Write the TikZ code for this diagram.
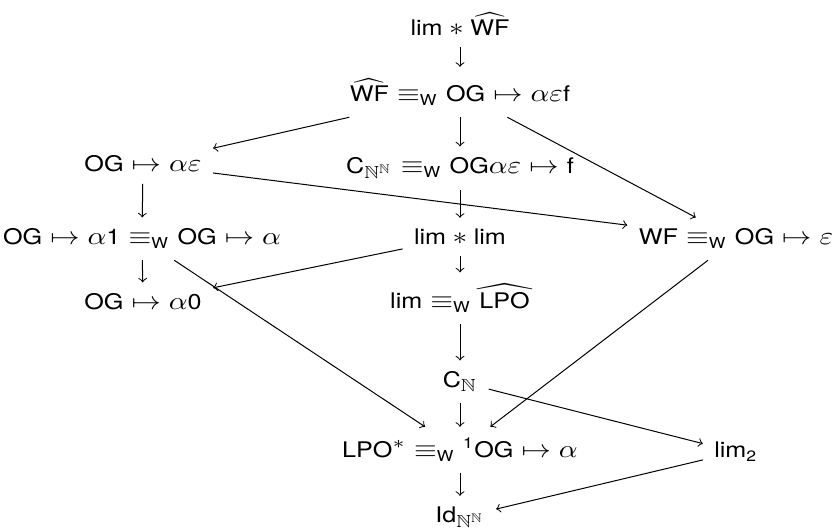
\documentclass[tikz,border=0pt]{standalone}
\usepackage{amsmath,amssymb}
\usepackage{graphicx}
\usepackage{fontspec}
\setmainfont{TeX Gyre Heros}[Scale=0.86]
\setsansfont{TeX Gyre Heros}[Scale=0.86]
\newcommand{\sx}[1]{\scalebox{1.17}[1]{#1}}
\newcommand{\tx}[1]{\text{#1}}
\newcommand{\eqW}{\equiv_{\text{W}}}
\begin{document}
\begin{tikzpicture}[x=0.4pt,y=-0.4pt,>=to,
  lbl/.style={anchor=base, inner xsep=4.4pt, inner ysep=4.4pt},
  arr/.style={->, line width=0.4pt}]
\useasboundingbox (0,0) rectangle (835,532);
% center column
\node[lbl] (n0) at (460,36) {\sx{$\tx{lim} * \widehat{\tx{WF}}$}};
\node[lbl] (n1) at (460,102) {\sx{$\widehat{\tx{WF}} \eqW \tx{OG} \mapsto \alpha\varepsilon\tx{f}$}};
\node[lbl] (n2c) at (460,174) {\sx{$\tx{C}_{\mathbb{N}^{\mathbb{N}}} \eqW \tx{OG}\alpha\varepsilon \mapsto \tx{f}$}};
\node[lbl] (n3c) at (460,245) {\sx{$\tx{lim} * \tx{lim}$}};
\node[lbl] (n4c) at (460,309) {\sx{$\tx{lim} \eqW \widehat{\tx{LPO}}$}};
\node[lbl] (n5c) at (460,388) {\sx{$\tx{C}_{\mathbb{N}}$}};
\node[lbl] (n6c) at (460,458) {\sx{$\tx{LPO}^{*} \eqW {}^{\tx{1}}\tx{OG} \mapsto \alpha$}};
\node[lbl] (n7c) at (460,523) {\sx{$\tx{Id}_{\mathbb{N}^{\mathbb{N}}}$}};
% left column
\node[lbl] (n2l) at (143,172) {\sx{$\tx{OG} \mapsto \alpha\varepsilon$}};
\node[lbl] (n3l) at (142,245) {\sx{$\tx{OG} \mapsto \alpha\tx{1} \eqW \tx{OG} \mapsto \alpha$}};
\node[lbl] (n4l) at (143,310) {\sx{$\tx{OG} \mapsto \alpha\tx{0}$}};
% right column
\node[lbl] (n3r) at (736,245) {\sx{$\tx{WF} \eqW \tx{OG} \mapsto \varepsilon$}};
\node[lbl] (n6r) at (736,458) {\sx{$\tx{lim}_{\tx{2}}$}};
% arrows
\draw[arr] (n0) -- (n1);
\draw[arr] (n1) -- (n2l);
\draw[arr] (n1) -- (n2c);
\draw[arr] (n1) -- (n3r);
\draw[arr] (n2l) -- (n3r);
\draw[arr] (n2l) -- (n3l);
\draw[arr] (n2c) -- (n3c);
\draw[arr] (n3l) -- (n4l);
\draw[arr] (n3l) -- (n6c);
\draw[arr] (n3c) -- (n4l);
\draw[arr] (n3c) -- (n4c);
\draw[arr] (n4c) -- (n5c);
\draw[arr] (n3r) -- (n6c);
\draw[arr] (n5c) -- (n6c);
\draw[arr] (n5c) -- (n6r);
\draw[arr] (n6c) -- (n7c);
\draw[arr] (n6r) -- (n7c);
\end{tikzpicture}
\end{document}
